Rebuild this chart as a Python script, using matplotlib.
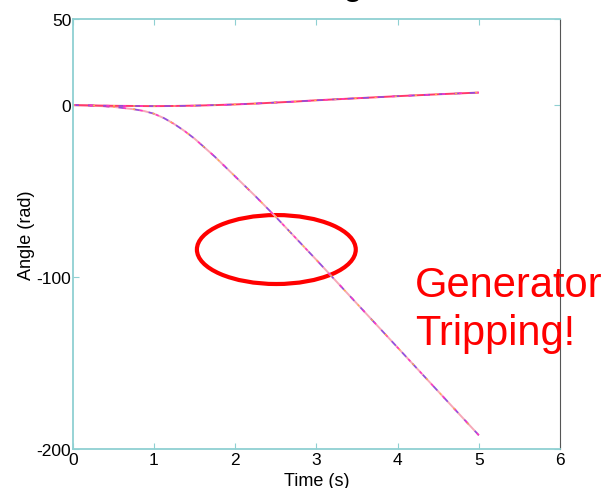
import numpy as np
import matplotlib.pyplot as plt
from matplotlib.patches import Ellipse

plt.rcParams['font.family'] = ['Liberation Sans', 'DejaVu Sans']
plt.rcParams['axes.unicode_minus'] = False

# values
time_s = [0, 0.25, 0.5, 0.75, 0.875, 1.0, 1.125, 1.25, 1.375, 1.5, 1.75, 2.0,
          2.25, 2.5, 2.75, 3.0, 3.5, 4.0, 4.5, 5.0]
angle_tripped = [0, -0.3, -1.0, -2.4, -3.4, -5.0, -7.6, -11.0, -15.0, -19.5, -30, -41.5,
                 -53, -65, -77.5, -90, -115.5, -141, -166.5, -192]
angle_stable = [0, -0.2, -0.4, -0.5, -0.55, -0.6, -0.55, -0.5, -0.4, -0.3, 0, 0.4,
                0.9, 1.5, 2.1, 2.8, 4.0, 5.2, 6.3, 7.3]
xticks = [0, 1, 2, 3, 4, 5, 6]
yticks = [-200, -100, 0, 50]

teal = '#8fd0d2'

fig = plt.figure(figsize=(6.08, 4.89), dpi=100)
ax = fig.add_axes([0.1196, 0.0798, 0.8015, 0.879])

# multicoloured dashed look of the original traces
for y, base in [(angle_tripped, '#f6a8b8'), (angle_stable, '#ff3a6a')]:
    ax.plot(time_s, y, color=base, lw=1.4, solid_capstyle='butt')
    ax.plot(time_s, y, color='#8a4ee6', lw=1.1, dashes=(4, 6))
    ax.plot(time_s, y, color='#ff36c8', lw=1.1, dashes=(2, 9), dash_capstyle='butt')
    ax.plot(time_s, y, color='#ffb347', lw=1.0, dashes=(1.5, 13))

ax.add_patch(Ellipse((2.507, -84), 1.956, 40.1, fill=False, ec='#ff0000', lw=3.0))

ax.set_xlim(0, 6)
ax.set_ylim(-200, 50)
ax.set_xticks(xticks)
ax.set_yticks(yticks)
ax.tick_params(direction='in', length=4, color=teal, labelsize=12.5,
               top=True, right=True, pad=1)
ax.tick_params(axis='x', pad=2)
for side in ['left', 'bottom', 'top']:
    ax.spines[side].set_color(teal)
    ax.spines[side].set_linewidth(1.3)
ax.spines['right'].set_color('#555555')
ax.set_xlabel('Time (s)', fontsize=13, labelpad=4)
ax.set_ylabel('Angle (rad)', fontsize=13, labelpad=1)

fig.text(415 / 608, 1 - 297 / 489, 'Generator', color='#ff0000', fontsize=30, va='baseline')
fig.text(415 / 608, 1 - 345 / 489, 'Tripping!', color='#ff0000', fontsize=30, va='baseline')
# descender of the cut-off title
fig.text(353 / 608, 1.013, 'g', fontsize=26, ha='center', va='baseline')

fig.savefig('out.png', dpi=100)
